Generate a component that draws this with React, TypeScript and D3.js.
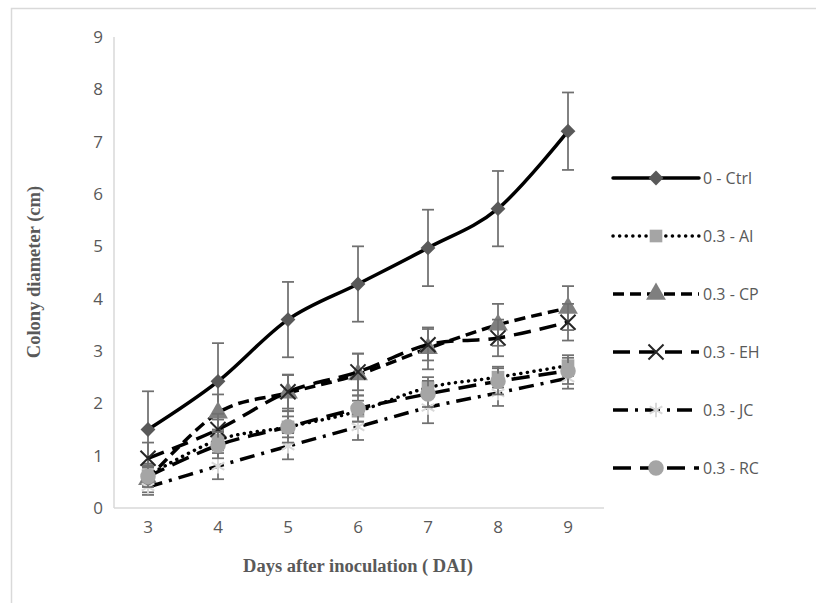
import React, { useEffect, useRef } from "react";
import * as d3 from "d3";

const days = [3, 4, 5, 6, 7, 8, 9];
const yTicks = [0, 1, 2, 3, 4, 5, 6, 7, 8, 9];

const ctrl = [1.5, 2.42, 3.6, 4.28, 4.97, 5.72, 7.2];
const ctrlErr = [0.73, 0.73, 0.72, 0.72, 0.73, 0.72, 0.74];
const ai = [0.62, 1.3, 1.55, 1.85, 2.3, 2.5, 2.72];
const aiErr = [0.2, 0.2, 0.2, 0.2, 0.2, 0.2, 0.2];
const cp = [0.55, 1.82, 2.2, 2.55, 3.05, 3.5, 3.82];
const cpErr = [0.3, 0.35, 0.35, 0.4, 0.4, 0.4, 0.42];
const eh = [0.95, 1.5, 2.22, 2.6, 3.12, 3.25, 3.55];
const ehErr = [0.3, 0.3, 0.32, 0.35, 0.3, 0.35, 0.35];
const jc = [0.4, 0.8, 1.18, 1.55, 1.92, 2.2, 2.48];
const jcErr = [0.1, 0.25, 0.25, 0.25, 0.3, 0.25, 0.2];
const rc = [0.6, 1.2, 1.55, 1.9, 2.18, 2.42, 2.62];
const rcErr = [0.2, 0.25, 0.3, 0.25, 0.25, 0.25, 0.25];

const seriesNames = ["0 - Ctrl", "0.3 - AI", "0.3 - CP", "0.3 - EH", "0.3 - JC", "0.3 - RC"];

type Series = {
  name: string;
  values: number[];
  errs: number[];
  dash: string;
  cap: string;
  symbol: d3.SymbolType;
  size: number;
  rotate: number;
  fill: string;
  stroke?: string;
};

const series: Series[] = [
  { name: seriesNames[0], values: ctrl, errs: ctrlErr, dash: "", cap: "round", symbol: d3.symbolSquare, size: 110, rotate: 45, fill: "#595959" },
  { name: seriesNames[1], values: ai, errs: aiErr, dash: "0.1 6.5", cap: "round", symbol: d3.symbolSquare, size: 160, rotate: 0, fill: "#a5a5a5" },
  { name: seriesNames[2], values: cp, errs: cpErr, dash: "11 6", cap: "butt", symbol: d3.symbolTriangle, size: 170, rotate: 0, fill: "#7f7f7f" },
  { name: seriesNames[3], values: eh, errs: ehErr, dash: "17 9", cap: "butt", symbol: d3.symbolTimes, size: 150, rotate: 0, fill: "none", stroke: "#262626" },
  { name: seriesNames[4], values: jc, errs: jcErr, dash: "15 7 3 7", cap: "butt", symbol: d3.symbolAsterisk, size: 150, rotate: 0, fill: "none", stroke: "#d9d9d9" },
  { name: seriesNames[5], values: rc, errs: rcErr, dash: "18 9", cap: "butt", symbol: d3.symbolCircle, size: 190, rotate: 0, fill: "#a5a5a5" },
];

const App = () => {
  const ref = useRef<SVGSVGElement>(null);

  useEffect(() => {
    const svg = d3.select(ref.current);
    svg.selectAll("*").remove();

    // outer chart frame
    svg.append("rect")
      .attr("x", 11.5).attr("y", 8.5)
      .attr("width", 830).attr("height", 620)
      .attr("fill", "#fff").attr("stroke", "#d9d9d9").attr("stroke-width", 1.5);

    const x = d3.scalePoint<number>().domain(days).range([148, 568]);
    const y = d3.scaleLinear().domain([0, 9]).range([508, 37]);

    // axes lines
    svg.append("line").attr("x1", 114).attr("x2", 114).attr("y1", 37).attr("y2", 508)
      .attr("stroke", "#d9d9d9").attr("stroke-width", 1.5);
    svg.append("line").attr("x1", 114).attr("x2", 604).attr("y1", 508).attr("y2", 508)
      .attr("stroke", "#d9d9d9").attr("stroke-width", 1.5);

    svg.append("g").selectAll("text").data(yTicks).enter().append("text")
      .attr("x", 103).attr("y", d => y(d)).attr("dy", "0.35em")
      .attr("text-anchor", "end")
      .attr("font-family", "'Open Sans', sans-serif").attr("font-size", 17)
      .attr("fill", "#595959").text(d => d);

    svg.append("g").selectAll("text").data(days).enter().append("text")
      .attr("x", d => x(d)!).attr("y", 533)
      .attr("text-anchor", "middle")
      .attr("font-family", "'Open Sans', sans-serif").attr("font-size", 17)
      .attr("fill", "#595959").text(d => d);

    svg.append("text")
      .attr("x", 358).attr("y", 572).attr("text-anchor", "middle")
      .attr("font-family", "'Liberation Serif', serif").attr("font-weight", "bold")
      .attr("font-size", 18.5).attr("fill", "#595959")
      .text("Days after inoculation ( DAI)");

    svg.append("text")
      .attr("transform", "translate(40,272) rotate(-90)").attr("text-anchor", "middle")
      .attr("font-family", "'Liberation Serif', serif").attr("font-weight", "bold")
      .attr("font-size", 18.5).attr("fill", "#595959")
      .text("Colony diameter (cm)");

    const line = d3.line<number>()
      .x((d, i) => x(days[i])!)
      .y(d => y(d))
      .curve(d3.curveCatmullRom.alpha(0));

    series.forEach(s => {
      const g = svg.append("g");
      // error bars
      s.values.forEach((v, i) => {
        const cx = x(days[i])!;
        const e = s.errs[i];
        g.append("line").attr("x1", cx).attr("x2", cx).attr("y1", y(v - e)).attr("y2", y(v + e))
          .attr("stroke", "#707070").attr("stroke-width", 1.75);
        [v - e, v + e].forEach(t => {
          g.append("line").attr("x1", cx - 6).attr("x2", cx + 6).attr("y1", y(t)).attr("y2", y(t))
            .attr("stroke", "#707070").attr("stroke-width", 1.75);
        });
      });
      g.append("path").datum(s.values).attr("d", line)
        .attr("fill", "none").attr("stroke", "#000").attr("stroke-width", 3.5)
        .attr("stroke-dasharray", s.dash).attr("stroke-linecap", s.cap);
      const sym = d3.symbol().type(s.symbol).size(s.size);
      g.selectAll("path.m").data(s.values).enter().append("path")
        .attr("class", "m")
        .attr("transform", (d, i) => `translate(${x(days[i])},${y(d)}) rotate(${s.rotate})`)
        .attr("d", sym()!)
        .attr("fill", s.fill)
        .attr("stroke", s.stroke || "none").attr("stroke-width", 2);
    });

    // legend
    const leg = svg.append("g");
    series.forEach((s, i) => {
      const ly = 178 + i * 58;
      leg.append("line").attr("x1", 613).attr("x2", 699).attr("y1", ly).attr("y2", ly)
        .attr("stroke", "#000").attr("stroke-width", 3.5)
        .attr("stroke-dasharray", s.dash).attr("stroke-linecap", s.cap);
      leg.append("path")
        .attr("transform", `translate(656,${ly}) rotate(${s.rotate})`)
        .attr("d", d3.symbol().type(s.symbol).size(s.size)()!)
        .attr("fill", s.fill)
        .attr("stroke", s.stroke || "none").attr("stroke-width", 2);
      leg.append("text").attr("x", 703).attr("y", ly).attr("dy", "0.35em")
        .attr("font-family", "'Open Sans', sans-serif").attr("font-size", 16)
        .attr("fill", "#595959").text(s.name);
    });
  }, []);

  return (
    <div style={{ position: "absolute", left: 0, top: 0 }}>
      <svg ref={ref} width={816} height={603} style={{ display: "block" }} />
    </div>
  );
};

export default App;
